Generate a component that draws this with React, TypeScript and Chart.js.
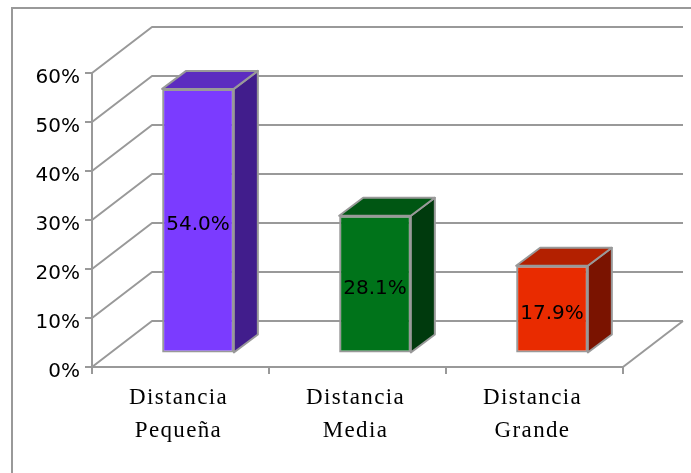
import React, { useEffect, useRef } from "react";
import { Chart, registerables } from "chart.js";

Chart.register(...registerables);

const categories = [["Distancia", "Pequeña"], ["Distancia", "Media"], ["Distancia", "Grande"]];
const values = [54.0, 28.1, 17.9];
const frontColors = ["#7B3BFF", "#00731A", "#E92B00"];
const topColors = ["#5C2CC0", "#005613", "#B32000"];
const sideColors = ["#411D8C", "#003A0D", "#7A1300"];

const GRAY = "#999999";
const WALL_DX = 60;
const WALL_DY = 46;
const BAR_SHIFT_X = 17.5;
const BAR_SHIFT_Y = 13.5;
const BAR_DX = 24;
const BAR_DY = 18;

const poly = (ctx: CanvasRenderingContext2D, pts: number[][], fill: string | null, stroke: string | null, lw = 2) => {
  ctx.beginPath();
  pts.forEach((p, i) => (i ? ctx.lineTo(p[0], p[1]) : ctx.moveTo(p[0], p[1])));
  if (fill) {
    ctx.closePath();
    ctx.fillStyle = fill;
    ctx.fill();
  }
  if (stroke) {
    ctx.strokeStyle = stroke;
    ctx.lineWidth = lw;
    ctx.lineJoin = "round";
    ctx.stroke();
  }
};

const depthPlugin = {
  id: "depth",
  afterLayout(chart: any) {
    const x = chart.scales.x;
    if (!x.__spaced) {
      x.__spaced = true;
      const orig = x.drawLabels;
      x.drawLabels = function (area: any) {
        const c = chart.ctx;
        c.save();
        c.letterSpacing = "1.35px";
        orig.call(x, area);
        c.restore();
      };
    }
  },
  beforeDatasetsDraw(chart: any) {
    const { ctx, scales } = chart;
    const y = scales.y;
    const x = scales.x;
    const l = x.left;
    const r = x.right;
    ctx.save();
    y.ticks.forEach((t: any) => {
      const py = y.getPixelForValue(t.value);
      poly(ctx, [[l, py], [l + WALL_DX, py - WALL_DY], [r + WALL_DX, py - WALL_DY]], null, GRAY);
    });
    const p0 = y.getPixelForValue(0);
    poly(ctx, [[r, p0], [r + WALL_DX, p0 - WALL_DY]], null, GRAY);
    ctx.restore();
  },
  beforeDatasetDraw(chart: any, args: any) {
    const { ctx } = chart;
    const meta = args.meta;
    ctx.save();
    ctx.translate(BAR_SHIFT_X, -BAR_SHIFT_Y);
    meta.data.forEach((b: any, i: number) => {
      const left = b.x - b.width / 2;
      const right = b.x + b.width / 2;
      const top = b.y;
      const bottom = b.base;
      poly(ctx, [[right, top], [right + BAR_DX, top - BAR_DY], [right + BAR_DX, bottom - BAR_DY], [right, bottom]], sideColors[i], GRAY);
      poly(ctx, [[left, top], [left + BAR_DX, top - BAR_DY], [right + BAR_DX, top - BAR_DY], [right, top]], topColors[i], GRAY);
    });
  },
  afterDatasetDraw(chart: any) {
    chart.ctx.restore();
  },
  afterDraw(chart: any) {
    const { ctx } = chart;
    const meta = chart.getDatasetMeta(0);
    ctx.save();
    ctx.translate(BAR_SHIFT_X, -BAR_SHIFT_Y);
    ctx.font = "20px 'DejaVu Sans'";
    ctx.fillStyle = "#000000";
    ctx.textAlign = "center";
    ctx.textBaseline = "middle";
    meta.data.forEach((b: any, i: number) => {
      ctx.fillText(values[i].toFixed(1) + "%", b.x, (b.y + b.base) / 2 + 4.5);
    });
    ctx.restore();
  },
};

export default function App() {
  const ref = useRef<HTMLCanvasElement>(null);
  useEffect(() => {
    const chart = new Chart(ref.current!, {
      type: "bar",
      data: {
        labels: categories as any,
        datasets: [
          {
            data: values,
            backgroundColor: frontColors,
            borderColor: GRAY,
            borderWidth: 2,
            borderSkipped: false,
            barPercentage: 0.405,
            categoryPercentage: 1,
          },
        ],
      },
      options: {
        responsive: false,
        animation: false,
        layout: { padding: { left: 0, top: 73, right: 68, bottom: 0 } },
        plugins: { legend: { display: false }, tooltip: { enabled: false }, title: { display: false } },
        scales: {
          x: {
            afterFit: (s: any) => {
              s.height = 106;
            },
            grid: { display: true, drawOnChartArea: false, drawTicks: true, tickLength: 7, color: GRAY, lineWidth: 2, offset: true },
            border: { display: true, color: GRAY, width: 2 },
            ticks: {
              color: "#000000",
              font: { family: "'Liberation Serif'", size: 23, lineHeight: 1.43 },
              padding: 8,
              labelOffset: -2,
              maxRotation: 0,
              autoSkip: false,
            },
          },
          y: {
            min: 0,
            max: 60,
            afterFit: (s: any) => {
              s.width = 92;
            },
            grid: { display: true, drawOnChartArea: false, drawTicks: true, tickLength: 7, color: GRAY, lineWidth: 2 },
            border: { display: true, color: GRAY, width: 2 },
            ticks: {
              stepSize: 10,
              color: "#000000",
              font: { family: "'DejaVu Sans'", size: 20 },
              padding: 5,
              labelOffset: 5,
              callback: (v: any) => v + "%",
            },
          },
        },
      },
      plugins: [depthPlugin],
    } as any);
    return () => chart.destroy();
  }, []);
  return (
    <div style={{ position: "absolute", left: 0, top: 0, width: 691, height: 473, overflow: "hidden", background: "#ffffff" }}>
      <div style={{ position: "absolute", left: 11, top: 7, width: 700, height: 500, borderLeft: `2px solid ${GRAY}`, borderTop: `2px solid ${GRAY}` }} />
      <canvas ref={ref} width={691} height={473} style={{ position: "absolute", left: 0, top: 0 }} />
    </div>
  );
}
